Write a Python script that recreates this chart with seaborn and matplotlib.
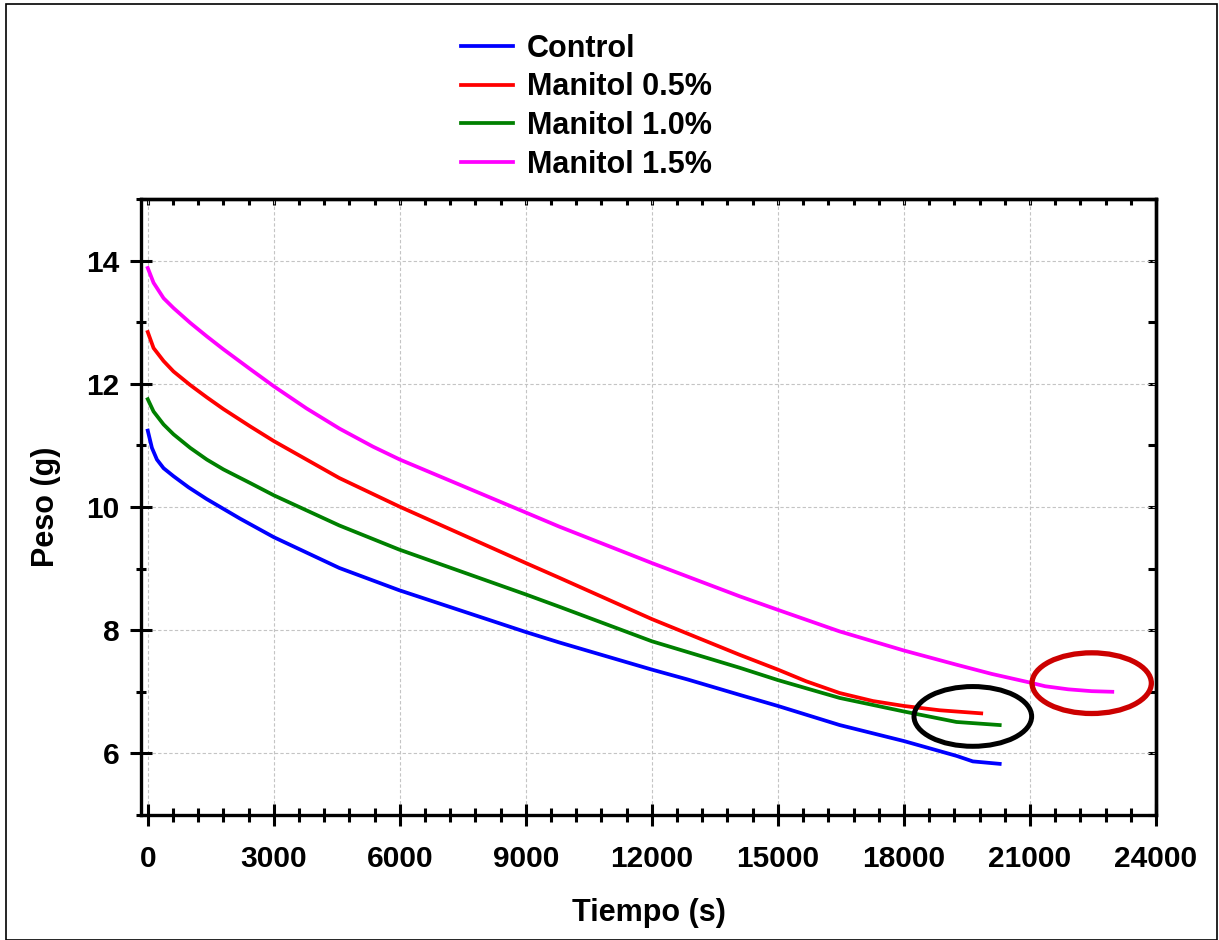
import pandas as pd
import seaborn as sns
import matplotlib.pyplot as plt
from matplotlib.patches import Ellipse, Rectangle
from matplotlib.ticker import MultipleLocator, NullFormatter

# Datos (tiempo en s, peso en g)
t_control = [0, 99, 218, 376, 613, 970, 1400, 2200, 3000, 4560, 5980, 9000, 9800, 12000,
             12850, 14090, 15000, 16470, 18000, 19250, 19640, 20280]
w_control = [11.24, 10.96, 10.77, 10.63, 10.50, 10.32, 10.13, 9.81, 9.51, 9.01, 8.65, 7.97, 7.80, 7.36,
             7.20, 6.95, 6.77, 6.46, 6.20, 5.96, 5.87, 5.83]

t_man05 = [0, 138, 376, 613, 1010, 1406, 1801, 2435, 3000, 4560, 5980, 9000, 9800, 12000,
           14090, 15000, 15675, 16470, 17260, 18000, 18850, 19840]
w_man05 = [12.84, 12.58, 12.37, 12.20, 11.98, 11.78, 11.59, 11.31, 11.07, 10.47, 10.01, 9.09, 8.85, 8.18,
           7.60, 7.36, 7.17, 6.98, 6.85, 6.77, 6.70, 6.65]

t_man10 = [0, 138, 376, 613, 1010, 1406, 1801, 2435, 3000, 4560, 5980, 9000, 9800, 12000,
           14090, 15000, 16470, 18000, 19250, 20280]
w_man10 = [11.75, 11.55, 11.34, 11.18, 10.96, 10.77, 10.61, 10.39, 10.19, 9.70, 9.31, 8.58, 8.38, 7.82,
           7.39, 7.19, 6.90, 6.68, 6.51, 6.46]

t_man15 = [0, 138, 376, 613, 1010, 1406, 1801, 2435, 3000, 3780, 4570, 5360, 6000, 9000, 9800,
           12000, 14090, 15000, 16470, 18000, 19250, 20090, 21000, 21360, 21910, 22470, 22960]
w_man15 = [13.88, 13.64, 13.39, 13.23, 12.99, 12.77, 12.56, 12.24, 11.96, 11.60, 11.27, 10.98, 10.77, 9.91, 9.68,
           9.09, 8.55, 8.33, 7.98, 7.67, 7.44, 7.29, 7.15, 7.09, 7.04, 7.01, 7.00]

labels = ["Control", "Manitol 0.5%", "Manitol 1.0%", "Manitol 1.5%"]
colores = ["#0000ff", "#ff0000", "#008000", "#ff00ff"]

series = [(t_control, w_control), (t_man05, w_man05), (t_man10, w_man10), (t_man15, w_man15)]
partes = []
for lab, (t, w) in zip(labels, series):
    partes.append(pd.DataFrame({"Tiempo": t, "Peso": w, "caso": lab}))
df = pd.concat(partes, ignore_index=True)

plt.rcParams['font.family'] = ['Liberation Sans', 'DejaVu Sans']
plt.rcParams['font.weight'] = 'bold'
plt.rcParams['axes.labelweight'] = 'bold'

fig = plt.figure(figsize=(12.19, 9.40), dpi=100)
ax = fig.add_axes([0.1157, 0.133, 0.8326, 0.6553])

sns.lineplot(data=df, x="Tiempo", y="Peso", hue="caso", hue_order=labels,
             palette=dict(zip(labels, colores)), estimator=None, sort=False,
             linewidth=2.7, ax=ax)

ax.set_xlim(-160, 24000)
ax.set_ylim(5, 15)
ax.xaxis.set_major_locator(MultipleLocator(3000))
ax.xaxis.set_minor_locator(MultipleLocator(600))
ax.yaxis.set_major_locator(MultipleLocator(2))
ax.yaxis.set_minor_locator(MultipleLocator(1))

ax.grid(True, which='major', color='#c4c4c4', linestyle=(0, (3, 2)), linewidth=0.8)
ax.set_axisbelow(True)

for s in ax.spines.values():
    s.set_linewidth(2.4)

ax.tick_params(axis='both', which='major', direction='inout', length=15.5, width=2.2,
               labelsize=21.5, pad=14)
ax.tick_params(axis='y', which='major', pad=8)
ax.tick_params(axis='both', which='minor', direction='inout', length=9.5, width=2.2)
ax.tick_params(axis='y', which='minor', length=7)

# ticks interiores arriba y a la derecha
sec_x = ax.secondary_xaxis('top')
sec_x.xaxis.set_major_locator(MultipleLocator(3000))
sec_x.xaxis.set_minor_locator(MultipleLocator(600))
sec_x.xaxis.set_major_formatter(NullFormatter())
sec_x.tick_params(which='both', direction='in', length=4.5, width=2.2)
sec_x.spines['top'].set_linewidth(2.4)

sec_y = ax.secondary_yaxis('right')
sec_y.yaxis.set_major_locator(MultipleLocator(1))
sec_y.yaxis.set_major_formatter(NullFormatter())
sec_y.tick_params(which='both', direction='in', length=5.5, width=2.2)
sec_y.spines['right'].set_linewidth(2.4)

ax.set_xlabel('Tiempo (s)', fontsize=22, fontweight='bold')
ax.set_ylabel('Peso (g)', fontsize=22, fontweight='bold')
ax.xaxis.set_label_coords(0.5, -0.135)
ax.yaxis.set_label_coords(-0.079, 0.5)

for lab in ax.get_xticklabels() + ax.get_yticklabels():
    lab.set_fontweight('bold')

# elipses de la figura original
ax.add_patch(Ellipse((19640, 6.60), 2800, 0.97, fill=False, edgecolor='black',
                     linewidth=3.6, clip_on=False, zorder=5))
ax.add_patch(Ellipse((22470, 7.14), 2840, 0.985, fill=False, edgecolor='#cc0000',
                     linewidth=3.8, clip_on=False, zorder=5))

handles, labs = ax.get_legend_handles_labels()
ax.get_legend().remove()
leg = ax.legend(handles, labs, loc='upper left', bbox_to_anchor=(0.3785, 0.964),
                bbox_transform=fig.transFigure, frameon=False, fontsize=22,
                borderpad=0, borderaxespad=0, labelspacing=0.28,
                handlelength=1.7, handletextpad=0.45)
for txt in leg.get_texts():
    txt.set_fontweight('bold')
for h in leg.get_lines():
    h.set_linewidth(2.7)

fig.patches.append(Rectangle((0.005, 0.0), 0.9935, 0.9955, transform=fig.transFigure,
                             fill=False, edgecolor='black', linewidth=1.2))

plt.savefig("out.png", dpi=100)
